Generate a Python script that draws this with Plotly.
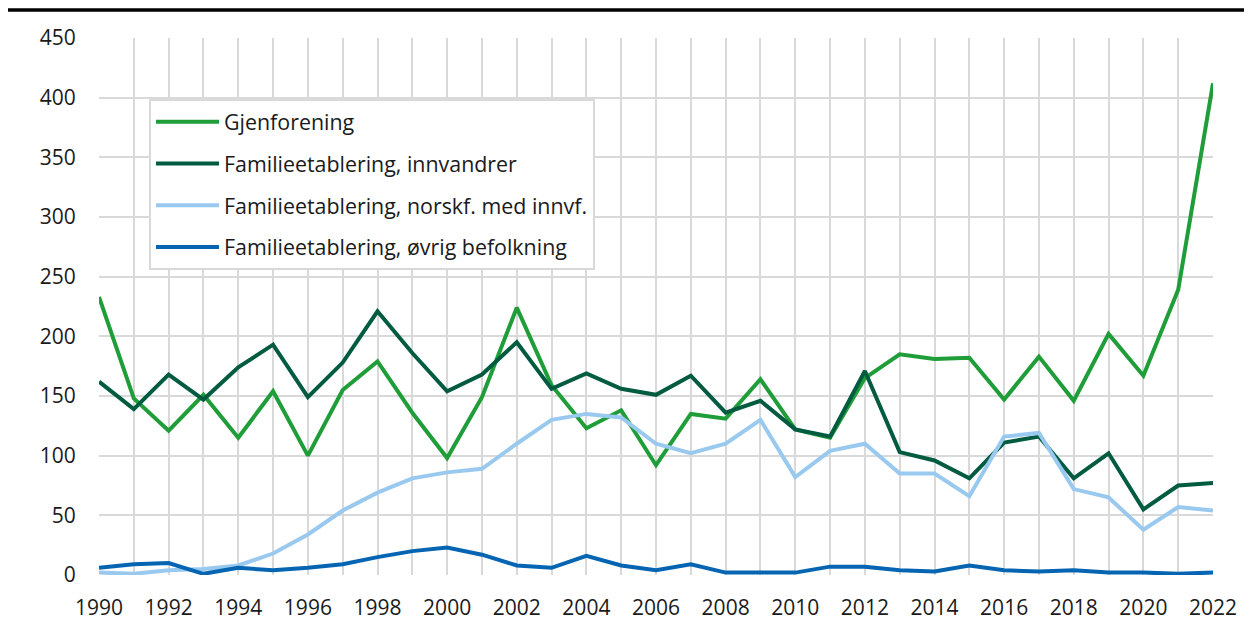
import plotly.graph_objects as go

# år
years = list(range(1990, 2023))

# serier (lest av figuren)
gjenforening = [233, 148, 121, 151, 115, 154, 100, 155, 179, 136, 98, 149, 224, 159, 123, 138, 92, 135, 131, 164,
                122, 115, 165, 185, 181, 182, 147, 183, 146, 202, 167, 239, 412]
innvandrer = [162, 139, 168, 147, 174, 193, 149, 178, 221, 186, 154, 168, 195, 156, 169, 156, 151, 167, 136, 146,
              122, 116, 171, 103, 96, 81, 111, 116, 81, 102, 55, 75, 77]
norskf_innvf = [2, 1, 4, 5, 8, 18, 34, 54, 69, 81, 86, 89, 110, 130, 135, 132, 110, 102, 110, 130,
                82, 104, 110, 85, 85, 66, 116, 119, 72, 65, 38, 57, 54]
ovrig = [6, 9, 10, 1, 6, 4, 6, 9, 15, 20, 23, 17, 8, 6, 16, 8, 4, 9, 2, 2,
         2, 7, 7, 4, 3, 8, 4, 3, 4, 2, 2, 1, 2]

serie_navn = ['Gjenforening',
              'Familieetablering, innvandrer',
              'Familieetablering, norskf. med innvf.',
              'Familieetablering, øvrig befolkning']
serie_data = [gjenforening, innvandrer, norskf_innvf, ovrig]
farger = ['#1f9d38', '#005b40', '#99c9ef', '#0565b3']

fig = go.Figure()

for i, (navn, verdier, farge) in enumerate(zip(serie_navn, serie_data, farger)):
    fig.add_trace(go.Scatter(
        x=years, y=verdier,
        mode='lines',
        name=navn,
        legendgroup=f'g{i}',
        line=dict(color=farge, width=4),
    ))

# svart strek øverst
fig.add_shape(type='line', xref='paper', yref='paper',
              x0=-0.09, x1=1.04, y0=1.052, y1=1.052,
              line=dict(color='black', width=3.5))

# siden har 8px marg rundt figuren, derfor litt mindre marger her
fig.update_layout(
    width=1244,
    height=613,
    margin=dict(l=91, r=39, t=30, b=46),
    paper_bgcolor='white',
    plot_bgcolor='white',
    font=dict(family='Open Sans', size=21, color='#1a1a1a'),
    showlegend=True,
    legend=dict(
        x=0.0449, y=0.886,
        xanchor='left', yanchor='top',
        bgcolor='white',
        bordercolor='#d9d9d9',
        borderwidth=2,
        font=dict(size=21.4),
        itemwidth=63,
        tracegroupgap=11,
    ),
    xaxis=dict(
        range=[1990, 2022],
        tickmode='linear', tick0=1990, dtick=2,
        showgrid=True, gridcolor='#d9d9d9', gridwidth=2,
        minor=dict(dtick=1, showgrid=True, gridcolor='#d9d9d9', gridwidth=2),
        ticks='outside', ticklen=14, tickcolor='rgba(0,0,0,0)',
        zeroline=False, showline=False, automargin=False,
    ),
    yaxis=dict(
        range=[0, 450],
        tickmode='linear', tick0=0, dtick=50,
        showgrid=True, gridcolor='#d9d9d9', gridwidth=2,
        ticks='outside', ticklen=18, tickcolor='rgba(0,0,0,0)',
        zeroline=False, showline=False, automargin=False,
    ),
)

fig.write_html("out.html")
